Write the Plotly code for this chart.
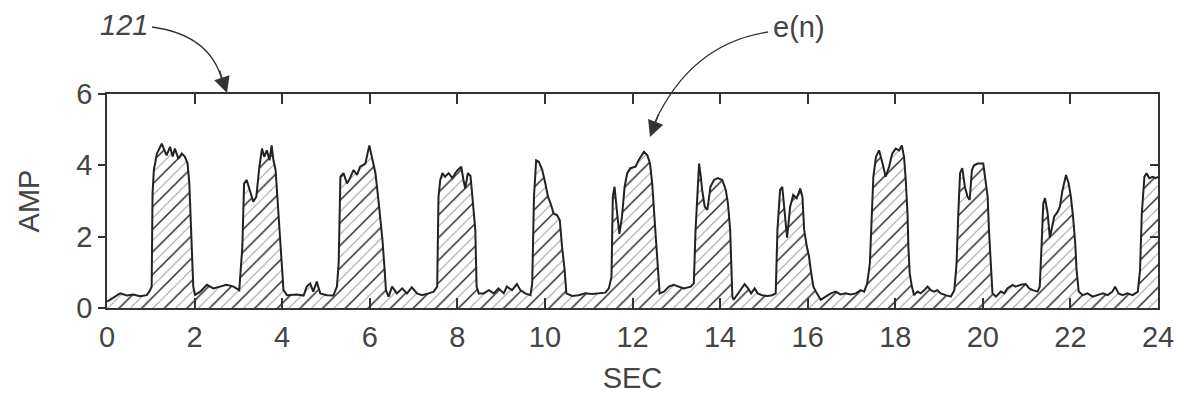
import plotly.graph_objects as go

# ---- data ----
SEC = [0.00, 0.30, 0.45, 0.60, 0.75, 0.91, 0.98, 1.02, 1.04, 1.07, 1.14, 1.25, 1.36, 1.44, 1.50, 1.55,
       1.63, 1.71, 1.78, 1.84, 1.88, 1.91, 1.94, 1.97, 2.01, 2.13, 2.28, 2.43, 2.58, 2.73, 2.89, 3.02,
       3.09, 3.13, 3.19, 3.28, 3.34, 3.41, 3.48, 3.54, 3.59, 3.65, 3.71, 3.76, 3.80, 3.85, 3.90, 3.95,
       3.99, 4.03, 4.11, 4.34, 4.49, 4.56, 4.64, 4.71, 4.79, 4.87, 5.02, 5.17, 5.25, 5.29, 5.33, 5.40,
       5.48, 5.55, 5.63, 5.71, 5.78, 5.90, 5.99, 6.05, 6.13, 6.19, 6.24, 6.29, 6.34, 6.37, 6.43, 6.51,
       6.62, 6.74, 6.85, 6.96, 7.08, 7.19, 7.34, 7.46, 7.54, 7.57, 7.61, 7.66, 7.72, 7.80, 7.89, 7.95,
       8.01, 8.09, 8.14, 8.18, 8.24, 8.30, 8.33, 8.37, 8.41, 8.44, 8.49, 8.60, 8.72, 8.83, 8.94, 9.06,
       9.13, 9.25, 9.36, 9.44, 9.55, 9.67, 9.71, 9.75, 9.80, 9.86, 9.94, 10.01, 10.07, 10.13, 10.20,
       10.28, 10.34, 10.39, 10.45, 10.49, 10.62, 10.77, 10.92, 11.08, 11.23, 11.38, 11.46, 11.52,
       11.55, 11.59, 11.65, 11.70, 11.76, 11.82, 11.88, 11.95, 12.07, 12.14, 12.26, 12.34, 12.40,
       12.45, 12.50, 12.55, 12.58, 12.62, 12.72, 12.83, 12.94, 13.06, 13.17, 13.33, 13.40, 13.44,
       13.48, 13.52, 13.56, 13.59, 13.65, 13.71, 13.78, 13.86, 13.95, 14.05, 14.13, 14.18, 14.23,
       14.25, 14.28, 14.31, 14.39, 14.47, 14.56, 14.64, 14.71, 14.79, 14.86, 14.96, 15.08, 15.19,
       15.27, 15.31, 15.37, 15.42, 15.47, 15.53, 15.60, 15.67, 15.75, 15.83, 15.88, 15.92, 15.98,
       16.03, 16.07, 16.13, 16.21, 16.30, 16.41, 16.53, 16.64, 16.75, 16.87, 16.98, 17.10, 17.21,
       17.29, 17.36, 17.42, 17.46, 17.50, 17.56, 17.63, 17.71, 17.78, 17.86, 17.93, 18.01, 18.09,
       18.15, 18.20, 18.24, 18.28, 18.30, 18.33, 18.38, 18.43, 18.51, 18.58, 18.66, 18.74, 18.81,
       18.89, 18.96, 19.04, 19.15, 19.27, 19.35, 19.40, 19.44, 19.48, 19.53, 19.59, 19.65, 19.70,
       19.75, 19.80, 19.88, 20.01, 20.05, 20.11, 20.14, 20.18, 20.22, 20.30, 20.41, 20.49, 20.56,
       20.68, 20.75, 20.87, 20.98, 21.06, 21.14, 21.25, 21.30, 21.34, 21.38, 21.42, 21.48, 21.53,
       21.58, 21.63, 21.71, 21.76, 21.82, 21.90, 21.96, 22.01, 22.06, 22.11, 22.14, 22.19, 22.28,
       22.39, 22.51, 22.62, 22.74, 22.85, 22.96, 23.02, 23.10, 23.19, 23.30, 23.42, 23.54, 23.59,
       23.63, 23.69, 23.74, 23.80, 23.88, 23.95, 24.00]

AMP = [0.18, 0.41, 0.35, 0.38, 0.33, 0.36, 0.49, 0.60, 3.20, 3.87, 4.33, 4.61, 4.28, 4.52, 4.25, 4.47,
       4.19, 4.33, 4.24, 4.05, 3.49, 2.56, 1.71, 0.60, 0.37, 0.46, 0.65, 0.55, 0.60, 0.65, 0.60, 0.50,
       1.70, 3.49, 3.59, 3.21, 2.98, 3.12, 3.96, 4.47, 4.24, 4.42, 4.14, 4.56, 4.14, 3.87, 2.93, 1.81,
       1.07, 0.50, 0.36, 0.38, 0.35, 0.60, 0.69, 0.46, 0.74, 0.41, 0.36, 0.35, 0.60, 1.25, 3.68, 3.78,
       3.49, 3.64, 3.87, 3.73, 3.96, 4.05, 4.56, 4.24, 3.78, 3.12, 2.56, 1.91, 1.07, 0.50, 0.32, 0.60,
       0.41, 0.55, 0.41, 0.58, 0.41, 0.36, 0.41, 0.46, 0.60, 3.12, 3.59, 3.78, 3.68, 3.78, 3.64, 3.78,
       3.87, 3.96, 3.59, 3.35, 3.78, 3.70, 3.31, 2.65, 2.19, 0.60, 0.41, 0.41, 0.50, 0.41, 0.55, 0.41,
       0.60, 0.50, 0.67, 0.50, 0.41, 0.36, 0.69, 3.12, 4.14, 4.10, 3.87, 3.49, 3.12, 2.93, 2.65,
       2.60, 2.46, 1.73, 1.07, 0.41, 0.34, 0.36, 0.41, 0.39, 0.41, 0.43, 0.55, 0.88,
       3.12, 3.40, 2.65, 2.08, 2.56, 3.40, 3.78, 3.92, 3.96, 4.14, 4.38, 4.28, 4.05,
       3.49, 2.56, 1.71, 1.07, 0.41, 0.46, 0.60, 0.65, 0.60, 0.55, 0.60, 0.69, 2.19,
       3.12, 4.05, 3.68, 3.31, 2.84, 2.75, 3.40, 3.59, 3.64, 3.59, 3.31, 2.93, 2.19,
       1.07, 0.32, 0.23, 0.36, 0.50, 0.67, 0.55, 0.41, 0.55, 0.41, 0.36, 0.34, 0.36,
       0.41, 2.19, 3.31, 3.40, 2.65, 1.97, 2.84, 3.17, 3.08, 3.35, 3.12, 2.19, 1.73,
       1.45, 1.07, 0.60, 0.41, 0.23, 0.32, 0.41, 0.46, 0.38, 0.41, 0.38, 0.41, 0.50,
       0.46, 0.69, 1.25, 2.65, 3.68, 4.24, 4.42, 4.05, 3.68, 3.96, 4.33, 4.47, 4.42,
       4.56, 4.24, 3.59, 2.65, 1.71, 0.97, 0.60, 0.36, 0.46, 0.41, 0.50, 0.60, 0.50,
       0.46, 0.50, 0.41, 0.36, 0.32, 0.50, 1.25, 2.65, 3.78, 3.92, 3.40, 3.12, 3.03,
       3.87, 4.00, 4.05, 4.05, 3.68, 3.12, 2.19, 1.07, 0.41, 0.32, 0.46, 0.41, 0.55,
       0.65, 0.60, 0.65, 0.67, 0.55, 0.50, 0.46, 0.60, 1.71, 2.93, 3.08, 2.65, 1.97,
       2.28, 2.56, 2.70, 2.84, 3.31, 3.73, 3.49, 3.12, 2.56, 1.81, 1.07, 0.46, 0.36,
       0.41, 0.32, 0.36, 0.41, 0.36, 0.46, 0.60, 0.41, 0.36, 0.41, 0.36, 0.46, 1.07,
       2.65, 3.68, 3.78, 3.64, 3.68, 3.64, 3.68]

X_TICKS = [0, 2, 4, 6, 8, 10, 12, 14, 16, 18, 20, 22, 24]
Y_TICKS = [0, 2, 4, 6]
X_TITLE = "SEC"
Y_TITLE = "AMP"
LABEL_121 = "121"
LABEL_EN = "e(n)"

# ---- styling / layout ----
# The page body has an 8px margin, so the figure is made smaller and every
# screen position below is given in window pixels and shifted by OFF.
OFF = 8
WIN_W, WIN_H = 1183, 402
W, H = WIN_W - 2 * OFF, WIN_H - 2 * OFF
PLOT_L, PLOT_R, PLOT_T, PLOT_B = 107, 1158, 94, 308   # window pixels
L, T = PLOT_L - OFF, PLOT_T - OFF
R, B = W - (PLOT_R - OFF), H - (PLOT_B - OFF)
PW, PH = PLOT_R - PLOT_L, PLOT_B - PLOT_T
INK = "#333333"
TXT = "#444444"
FONT = "Liberation Sans, Arial, sans-serif"
FS = 29


def px(xp):
    return (xp - PLOT_L) / PW


def py(yp):
    return (PLOT_B - yp) / PH


fig = go.Figure()

# light hatch lines (every line)
fig.add_trace(go.Scatter(
    x=SEC, y=AMP, mode="lines", fill="tozeroy",
    line=dict(width=0, color="rgba(0,0,0,0)"),
    fillcolor="rgba(0,0,0,0)",
    fillpattern=dict(shape="/", size=8, solidity=0.12, fgcolor="#9a9a9a",
                     bgcolor="white", fillmode="replace"),
    hoverinfo="skip", showlegend=False))

# dark hatch lines (every other line) + outline
fig.add_trace(go.Scatter(
    x=SEC, y=AMP, mode="lines", fill="tozeroy",
    line=dict(width=2, color="#222222"),
    fillcolor="rgba(0,0,0,0)",
    fillpattern=dict(shape="/", size=16, solidity=0.08, fgcolor="#2a2a2a",
                     bgcolor="rgba(0,0,0,0)", fillmode="replace"),
    showlegend=False, name="e(n)"))

# invisible trace to carry the right-side (inside) y ticks
fig.add_trace(go.Scatter(x=[None], y=[None], yaxis="y2", showlegend=False,
                         hoverinfo="skip"))

fig.update_layout(
    width=W, height=H,
    margin=dict(l=L, r=R, t=T, b=B, autoexpand=False),
    paper_bgcolor="white", plot_bgcolor="white",
    font=dict(family=FONT, size=FS, color=TXT),
    xaxis=dict(range=[0, 24], tickvals=X_TICKS, ticktext=[str(v) for v in X_TICKS],
               ticks="inside", ticklen=10, tickwidth=1.5, tickcolor=INK,
               showline=True, linecolor=INK, linewidth=1.6, mirror="ticks",
               showgrid=False, zeroline=False, automargin=False,
               ticklabelstandoff=2,
               title=dict(text=X_TITLE, standoff=27, font=dict(size=FS))),
    yaxis=dict(range=[0, 6], tickvals=Y_TICKS, ticktext=[str(v) for v in Y_TICKS],
               ticks="outside", ticklen=7, tickwidth=1.5, tickcolor=INK,
               showline=True, linecolor=INK, linewidth=1.6, mirror=True,
               showgrid=False, zeroline=False, automargin=False,
               title=dict(text=Y_TITLE, standoff=28, font=dict(size=FS))),
    yaxis2=dict(range=[0, 6], tickvals=Y_TICKS, overlaying="y", side="right",
                ticks="inside", ticklen=8, tickwidth=1.5, tickcolor=INK,
                showticklabels=False, showline=False, showgrid=False,
                zeroline=False),
)

# curved leader lines
fig.add_shape(type="path", xref="paper", yref="paper",
              path=f"M {px(152)},{py(27)} Q {px(210)},{py(35)} {px(222)},{py(80)}",
              line=dict(color=INK, width=1.3))
fig.add_shape(type="path", xref="paper", yref="paper",
              path=f"M {px(768)},{py(32)} Q {px(691)},{py(44)} {px(655)},{py(122)}",
              line=dict(color=INK, width=1.3))

# arrow heads
fig.add_annotation(xref="paper", yref="paper", x=px(227), y=py(93), ax=-8, ay=-24,
                   text="", showarrow=True, arrowhead=2, arrowsize=2.3,
                   arrowwidth=1.4, arrowcolor=INK)
fig.add_annotation(xref="paper", yref="paper", x=px(650), y=py(137), ax=9, ay=-24,
                   text="", showarrow=True, arrowhead=2, arrowsize=2.3,
                   arrowwidth=1.4, arrowcolor=INK)

# labels
fig.add_annotation(xref="paper", yref="paper", x=px(124), y=py(25),
                   xanchor="center", yanchor="middle",
                   text=f"<i>{LABEL_121}</i>", showarrow=False,
                   font=dict(size=FS, color=TXT))
fig.add_annotation(xref="paper", yref="paper", x=px(799), y=py(27),
                   xanchor="center", yanchor="middle",
                   text=LABEL_EN, showarrow=False,
                   font=dict(size=FS, color=TXT))

fig.write_html("out.html")
